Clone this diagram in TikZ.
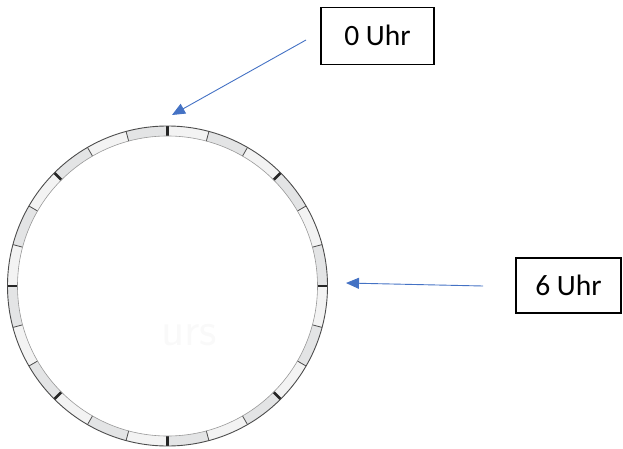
\documentclass[tikz,border=0pt]{standalone}
\usepackage{fontspec}
\setmainfont{Carlito}
\usetikzlibrary{arrows.meta,calc}
\definecolor{arrowblue}{HTML}{4472C4}
\definecolor{seggray}{HTML}{E3E4E5}
\definecolor{seglight}{HTML}{F3F3F3}
\tikzset{
  labelbox/.style={draw=black,line width=1.2pt,fill=white,inner sep=0pt,font=\fontsize{29.5}{34}\selectfont},
  bluearrow/.style={draw=arrowblue,line width=0.9pt,-{Triangle[length=13pt,width=11pt]}},
  thintick/.style={draw=black!70,line width=0.8pt},
  thicktick/.style={draw=black!85,line width=2.6pt},
}
\begin{document}
\begin{tikzpicture}[x=1pt,y=1pt]
\useasboundingbox (0,0) rectangle (623,448);
\coordinate (c) at (167.5,162);
% ring segments
\foreach \k in {0,...,23}{
  \pgfmathsetmacro{\a}{90-15*\k}
  \pgfmathsetmacro{\b}{75-15*\k}
  \pgfmathtruncatemacro{\odd}{mod(\k,2)}
  \ifnum\odd=1 \def\segcol{seggray}\else\def\segcol{seglight}\fi
  \fill[\segcol] ($(c)+(\a:160pt)$) arc[start angle=\a,end angle=\b,radius=160pt]
     -- ($(c)+(\b:150pt)$) arc[start angle=\b,end angle=\a,radius=150pt] -- cycle;
}
% ticks
\foreach \k in {0,...,23}{
  \pgfmathsetmacro{\a}{90-15*\k}
  \pgfmathtruncatemacro{\big}{mod(\k,3)}
  \ifnum\big=0
    \draw[thicktick] ($(c)+(\a:150pt)$) -- ($(c)+(\a:160pt)$);
  \else
    \draw[thintick] ($(c)+(\a:150pt)$) -- ($(c)+(\a:160pt)$);
  \fi
}
\draw[black!70,line width=0.9pt] (c) circle[radius=160pt];
\draw[black!40,line width=0.6pt] (c) circle[radius=150pt];
% faint watermark
\node[text=black!2.5,font=\fontsize{48}{52}\selectfont\sffamily] (wm) at (189,113) {urs};
% labels
\node[labelbox,minimum width=113pt,minimum height=57pt] (zero) at (377.5,412.3) {0 Uhr};
\node[labelbox,minimum width=105pt,minimum height=55pt] (six) at (568.5,162.5) {6 Uhr};
% arrows
\coordinate (t1) at (306,408);
\coordinate (h1) at (172,333);
\coordinate (t2) at (483,162);
\coordinate (h2) at (346,165);
\draw[bluearrow] (t1) -- (h1);
\draw[bluearrow] (t2) -- (h2);
\end{tikzpicture}
\end{document}
